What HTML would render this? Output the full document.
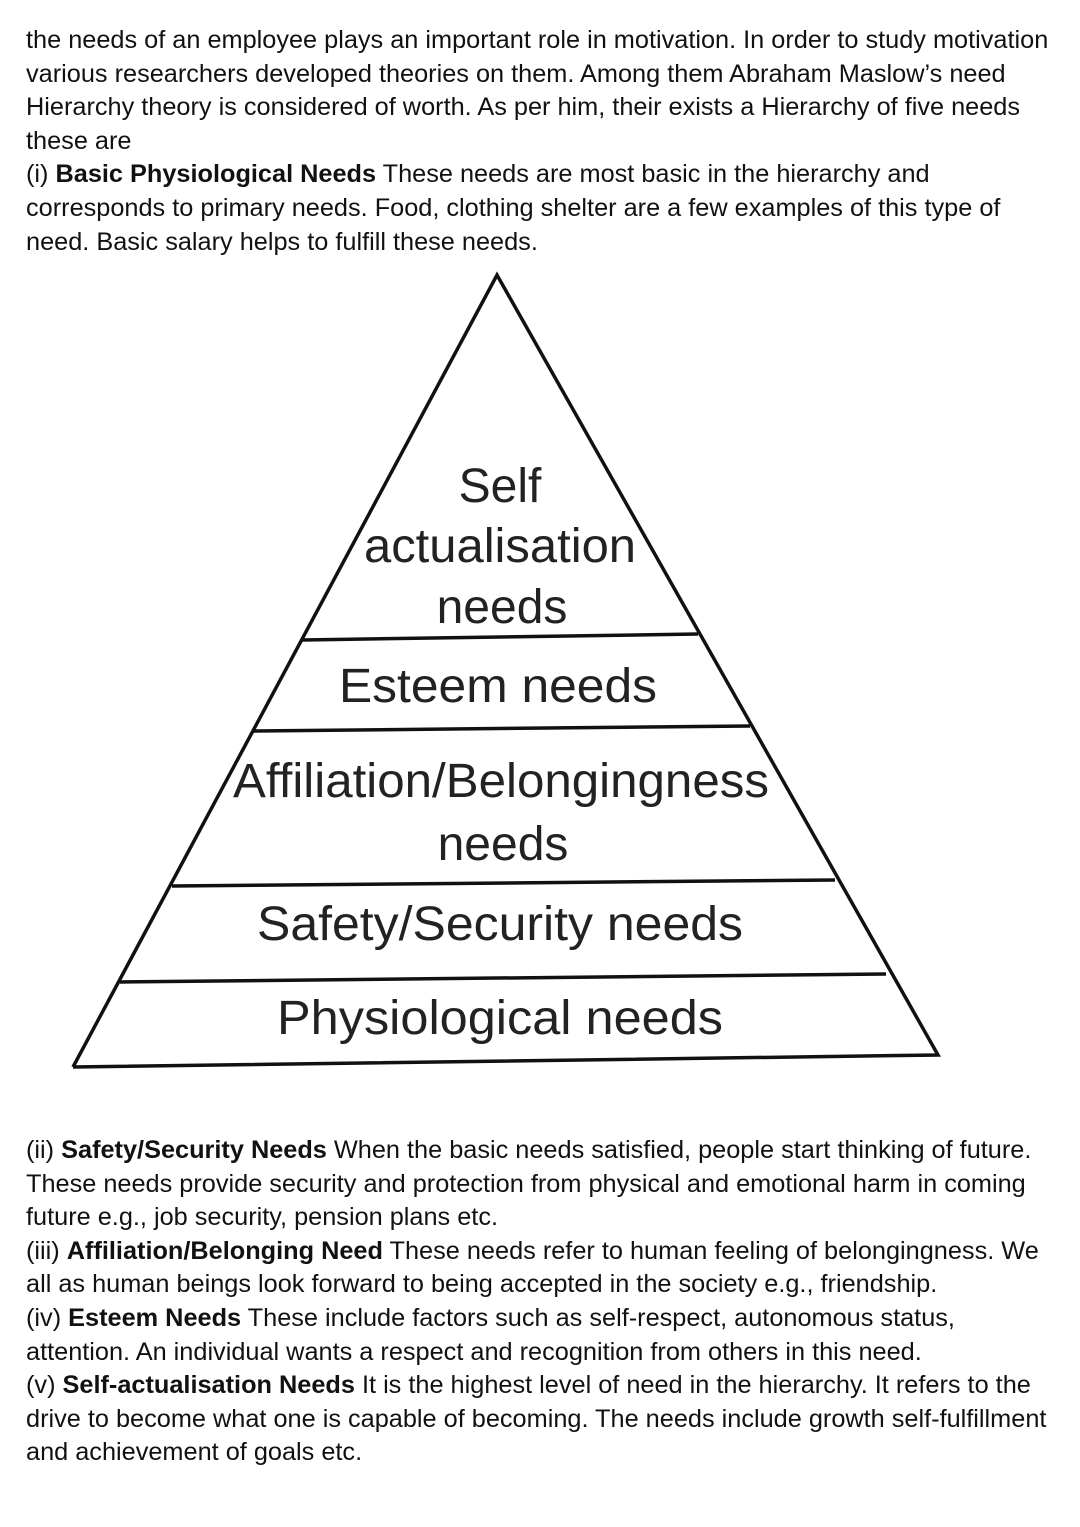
<!DOCTYPE html>
<html><head><meta charset="utf-8"><style>
body{margin:0;background:#fff;width:1080px;height:1527px;position:relative;overflow:hidden;font-family:"Liberation Sans",Arial,sans-serif;color:#111}
.p{position:absolute;left:26px;font-size:25.3px;line-height:33.6px;white-space:nowrap}
svg{position:absolute;left:0;top:0}
</style></head><body>
<div class="p" style="top:24px">the needs of an employee plays an important role in motivation. In order to study motivation<br>various researchers developed theories on them. Among them Abraham Maslow’s need<br>Hierarchy theory is considered of worth. As per him, their exists a Hierarchy of five needs<br>these are<br>(i) <b>Basic Physiological Needs</b> These needs are most basic in the hierarchy and<br>corresponds to primary needs. Food, clothing shelter are a few examples of this type of<br>need. Basic salary helps to fulfill these needs.</div>
<svg width="1080" height="1527" viewBox="0 0 1080 1527">
<g stroke="#111" stroke-width="3.5" fill="none">
<polyline points="73,1067 497,275 938,1055 73,1067"/>
<line x1="302" y1="640" x2="698" y2="634"/>
<line x1="253" y1="731" x2="750" y2="726"/>
<line x1="172" y1="886" x2="835" y2="880"/>
<line x1="120" y1="982" x2="886" y2="974"/>
</g>
<g font-family="Liberation Sans, Arial, sans-serif" font-size="48" fill="#222" text-anchor="middle">
<text x="500" y="502">Self</text>
<text x="500" y="562" textLength="272" lengthAdjust="spacingAndGlyphs">actualisation</text>
<text x="502" y="623">needs</text>
<text x="498" y="702" textLength="318" lengthAdjust="spacingAndGlyphs">Esteem needs</text>
<text x="501" y="797" textLength="536" lengthAdjust="spacingAndGlyphs">Affiliation/Belongingness</text>
<text x="503" y="860">needs</text>
<text x="500" y="940" textLength="486" lengthAdjust="spacingAndGlyphs">Safety/Security needs</text>
<text x="500" y="1034" textLength="446" lengthAdjust="spacingAndGlyphs">Physiological needs</text>
</g>
</svg>
<div class="p" style="top:1134px">(ii) <b>Safety/Security Needs</b> When the basic needs satisfied, people start thinking of future.<br>These needs provide security and protection from physical and emotional harm in coming<br>future e.g., job security, pension plans etc.<br>(iii) <b>Affiliation/Belonging Need</b> These needs refer to human feeling of belongingness. We<br>all as human beings look forward to being accepted in the society e.g., friendship.<br>(iv) <b>Esteem Needs</b> These include factors such as self-respect, autonomous status,<br>attention. An individual wants a respect and recognition from others in this need.<br>(v) <b>Self-actualisation Needs</b> It is the highest level of need in the hierarchy. It refers to the<br>drive to become what one is capable of becoming. The needs include growth self-fulfillment<br>and achievement of goals etc.</div>
</body></html>
